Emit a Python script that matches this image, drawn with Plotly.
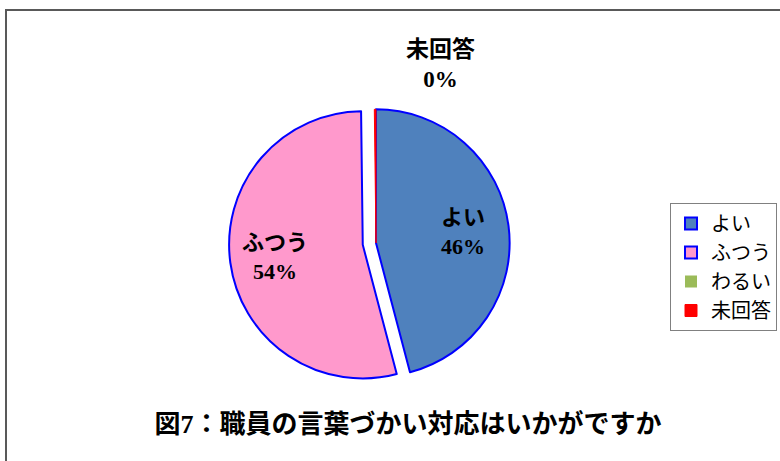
import math
import plotly.graph_objects as go

labels = ["よい", "ふつう", "わるい", "未回答"]
values = [46, 54, 0, 0.2]
colors = ["#4F81BD", "#FF99CC", "#9BBB59", "#FF0000"]
line_colors = ["#0000FF", "#0000FF", "#9BBB59", "#FF0000"]
line_widths = [2, 2, 0, 1]
pulls = [0, 0.1, 0, 0]
show_inside = [True, True, False, False]
title_text = "図7：職員の言葉づかい対応はいかがですか"

W, H = 780, 461
serif = "Liberation Serif, Noto Sans CJK JP"
sans = "Noto Sans CJK JP, sans-serif"

cx, cy, half = 376, 243, 147

fig = go.Figure(go.Pie(
    labels=labels,
    values=values,
    sort=False,
    direction="clockwise",
    rotation=0,
    pull=pulls,
    marker=dict(colors=colors, line=dict(color=line_colors, width=line_widths)),
    textinfo="none",
    domain=dict(x=[(cx - half) / W, (cx + half) / W],
                y=[(H - cy - half) / H, (H - cy + half) / H]),
    hoverinfo="label+percent",
))

# labels placed along each slice bisector (derived from the data)
total = sum(values)
R = half / (1 + max(pulls))
cum = 0.0
for lab, v, p, show in zip(labels, values, pulls, show_inside):
    mid = (cum + v / 2) / total
    cum += v
    if not show:
        continue
    th = 2 * math.pi * mid
    rr = R * (p + 0.66)
    px = cx + math.sin(th) * rr
    py = cy - math.cos(th) * rr
    fig.add_annotation(
        x=px / W, y=(H - py) / H, xref="paper", yref="paper",
        xanchor="center", yanchor="middle",
        text="<b>%s<br>%d%%</b>" % (lab, round(v / total * 100)),
        showarrow=False, font=dict(family=serif, size=22, color="black"),
        align="center",
    )

fig.add_annotation(
    x=440 / W, y=(H - 64) / H, xref="paper", yref="paper",
    xanchor="center", yanchor="middle",
    text="<b>%s<br>%d%%</b>" % (labels[3], round(values[3] / total * 100)),
    showarrow=False, font=dict(family=serif, size=23, color="black"),
    align="center",
)

fig.add_shape(type="rect", xref="paper", yref="paper",
              x0=6 / W, x1=1.2, y0=-0.2, y1=(H - 10) / H,
              line=dict(color="#595959", width=2))

fig.update_layout(
    width=W, height=H,
    margin=dict(l=0, r=0, t=0, b=0),
    paper_bgcolor="white",
    plot_bgcolor="white",
    title=dict(text="<b>%s</b>" % title_text, x=408 / W, y=(H - 424) / H,
               xanchor="center", yanchor="middle",
               font=dict(family=serif, size=26, color="black")),
    legend=dict(x=670 / W, y=(H - 203) / H, xanchor="left", yanchor="top",
                bordercolor="#808080", borderwidth=1, bgcolor="white",
                itemwidth=30, tracegroupgap=0,
                font=dict(family=sans, size=20, color="black")),
    showlegend=True,
)

fig.write_html("out.html", config={"displayModeBar": False},
               post_script="document.body.style.margin='0';")
